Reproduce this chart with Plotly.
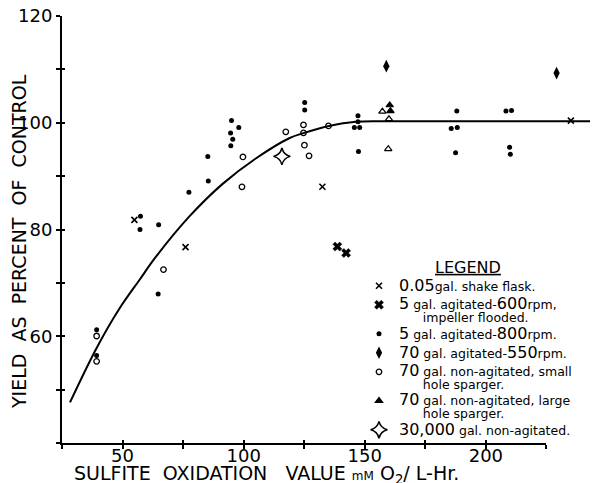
import plotly.graph_objects as go

# ---- data ----
shake_x = [54.9, 76.0, 132.5, 235.1]
shake_y = [81.8, 76.7, 88.0, 100.4]

g600_x = [138.7, 142.3]
g600_y = [76.8, 75.6]

g800_x = [39.3, 39.3, 57.4, 57.2, 64.9, 64.7, 77.4, 85.4, 85.2, 94.7, 95.5, 94.6, 98.0, 95.0,
          125.2, 125.2, 147.2, 147.2, 145.7, 147.9, 147.4, 188.0, 185.7, 188.2, 187.5,
          208.3, 210.6, 209.8, 210.1]
g800_y = [61.2, 56.4, 82.5, 80.0, 80.9, 67.9, 87.0, 89.1, 93.7, 95.7, 96.9, 98.1, 99.1, 100.4,
          103.8, 102.4, 101.3, 100.2, 99.1, 99.1, 94.6, 102.2, 98.9, 99.1, 94.4,
          102.2, 102.3, 95.4, 94.1]

g550_x = [158.9, 229.2]
g550_y = [110.6, 109.3]

small_x = [39.3, 39.3, 66.9, 99.7, 99.3, 117.4, 124.7, 124.7, 125.1, 127.0, 135.0]
small_y = [60.05, 55.3, 72.5, 93.6, 88.0, 98.3, 99.6, 98.1, 95.8, 93.8, 99.4]

large_x = [160.3, 160.6, 157.3, 160.0, 159.7]
large_y = [103.3, 102.2, 102.1, 100.7, 95.1]
large_filled = [True, True, False, False, False]

big_x = [115.8]
big_y = [93.7]

curve_x = [28.3, 39.3, 48.6, 56.9, 63.8, 77.5, 91.2, 105.0, 118.8, 124.3, 135.3, 146.3, 160.0, 243.0]
curve_y = [47.6, 57.8, 65.1, 70.5, 74.9, 82.4, 88.5, 93.3, 97.1, 98.0, 99.4, 100.2, 100.3, 100.3]

x_ticks = [25, 50, 75, 100, 125, 150, 175, 200, 225]
x_labels = ["", "50", "", "100", "", "150", "", "200", ""]
y_ticks = [40, 50, 60, 70, 80, 90, 100, 110, 120]
y_labels = ["", "", "60", "", "80", "", "100", "", "120"]

FONT = "DejaVu Sans"


def big(s):
    return "<span style='font-size:16px'>%s</span>" % s


def sm(s):
    return "<span style='font-size:12.5px'>%s</span>" % s


IND = "\u00a0" * 6

fig = go.Figure()

fig.add_trace(go.Scatter(x=curve_x, y=curve_y, mode="lines",
                         line=dict(color="black", width=2, shape="spline", smoothing=1.0),
                         showlegend=False, hoverinfo="skip"))

fig.add_trace(go.Scatter(x=shake_x, y=shake_y, mode="markers",
                         name=big("0.05") + sm("gal. shake flask."),
                         marker=dict(symbol="x-thin", size=6, color="black",
                                     line=dict(width=1.6, color="black"))))
fig.add_trace(go.Scatter(x=g600_x, y=g600_y, mode="markers",
                         name=big("5") + sm(" gal. agitated-") + big("600") + sm("rpm,")
                         + "<br>" + sm(IND + "impeller flooded."),
                         marker=dict(symbol="x", size=8, color="black",
                                     line=dict(width=0.5, color="black"))))
fig.add_trace(go.Scatter(x=g800_x, y=g800_y, mode="markers",
                         name=big("5") + sm(" gal. agitated-") + big("800") + sm("rpm."),
                         marker=dict(symbol="circle", size=5, color="black")))
fig.add_trace(go.Scatter(x=g550_x, y=g550_y, mode="markers",
                         name=big("70") + sm(" gal. agitated-") + big("550") + sm("rpm."),
                         marker=dict(symbol="diamond-tall", size=9, color="black")))
fig.add_trace(go.Scatter(x=small_x, y=small_y, mode="markers",
                         name=big("70") + sm(" gal. non-agitated, small")
                         + "<br>" + sm(IND + "hole sparger."),
                         marker=dict(symbol="circle-open", size=5.5, color="black",
                                     line=dict(width=1.3, color="black"))))
fig.add_trace(go.Scatter(x=large_x, y=large_y, mode="markers",
                         name=big("70") + sm(" gal. non-agitated, large")
                         + "<br>" + sm(IND + "hole sparger."),
                         marker=dict(symbol=["triangle-up" if f else "triangle-up-open" for f in large_filled],
                                     size=6.5, color="black",
                                     line=dict(width=1.2, color="black"))))
fig.add_trace(go.Scatter(x=big_x, y=big_y, mode="markers",
                         name=big("30,000") + sm(" gal. non-agitated."),
                         marker=dict(symbol="star-diamond-open", size=12, color="black",
                                     line=dict(width=1.5, color="black"))))

for tr in fig.data:
    tr.cliponaxis = False

W, H = 592, 483
ML, MR, MT, MB = 62, 2, 16, 40
PW, PH = W - ML - MR, H - MT - MB

fig.update_layout(
    width=W, height=H,
    margin=dict(l=ML, r=MR, t=MT, b=MB, autoexpand=False),
    paper_bgcolor="white", plot_bgcolor="rgba(0,0,0,0)",
    font=dict(family=FONT, color="black"),
    xaxis=dict(range=[25, 243], showline=False, showgrid=False, zeroline=False,
               showticklabels=False, ticks="", automargin=False),
    xaxis2=dict(range=[25, 225], domain=[0, 200 / 218], anchor="y", showline=True,
                linecolor="black", linewidth=2, showgrid=False, zeroline=False,
                tickvals=x_ticks, ticktext=x_labels, ticks="outside", ticklen=4,
                tickwidth=1.5, tickcolor="black", automargin=False,
                ticklabelstandoff=-9,
                tickfont=dict(family=FONT, size=18, color="black")),
    xaxis3=dict(range=[25, 225], domain=[0, 200 / 218], anchor="y", overlaying="x2",
                showline=False, showgrid=False, zeroline=False, tickvals=x_ticks,
                showticklabels=False, ticks="inside", ticklen=3, tickwidth=1.5,
                tickcolor="black", automargin=False),
    yaxis=dict(range=[40, 120], showline=True, linecolor="black", linewidth=2,
               showgrid=False, zeroline=False, tickvals=y_ticks, ticktext=y_labels,
               ticks="outside", ticklen=4, tickwidth=1.5, tickcolor="black",
               automargin=False,
               tickfont=dict(family=FONT, size=18, color="black")),
    yaxis2=dict(range=[40, 120], overlaying="y", anchor="x", side="left",
                showline=False, showgrid=False, zeroline=False, tickvals=y_ticks,
                showticklabels=False, ticks="inside", ticklen=3, tickwidth=1.5,
                tickcolor="black", automargin=False),
    legend=dict(x=(359 - ML) / PW, y=(443 - 252) / PH,
                xanchor="left", yanchor="top", valign="top",
                bgcolor="rgba(0,0,0,0)", borderwidth=0,
                font=dict(family=FONT, size=10, color="black"),
                title=dict(text="<u>LEGEND</u>", side="top center",
                           font=dict(family=FONT, size=16, color="black"))),
    showlegend=True,
    annotations=[
        dict(text="YIELD  AS  PERCENT  OF  CONTROL", textangle=-90,
             x=(19 - ML) / PW, y=(443 - 242) / PH,
             xref="paper", yref="paper", xanchor="center", yanchor="middle",
             showarrow=False, font=dict(family=FONT, size=19, color="black")),
        dict(text="SULFITE  OXIDATION   VALUE <span style='font-size:12px'>mM</span>"
                  " O<sub>2</sub>/ L-Hr.",
             x=(72 - ML) / PW, y=(443 - 474) / PH,
             xref="paper", yref="paper", xanchor="left", yanchor="middle",
             showarrow=False, font=dict(family=FONT, size=19, color="black")),
    ],
)

# empty traces that activate the tick-carrying axes (no visible marks)
fig.add_trace(go.Scatter(x=[], y=[], xaxis="x2", yaxis="y", showlegend=False))
fig.add_trace(go.Scatter(x=[], y=[], xaxis="x3", yaxis="y2", showlegend=False))

fig.write_html("out.html", config={"displayModeBar": False},
               post_script="document.body.style.margin='0';document.body.style.overflow='hidden';")
